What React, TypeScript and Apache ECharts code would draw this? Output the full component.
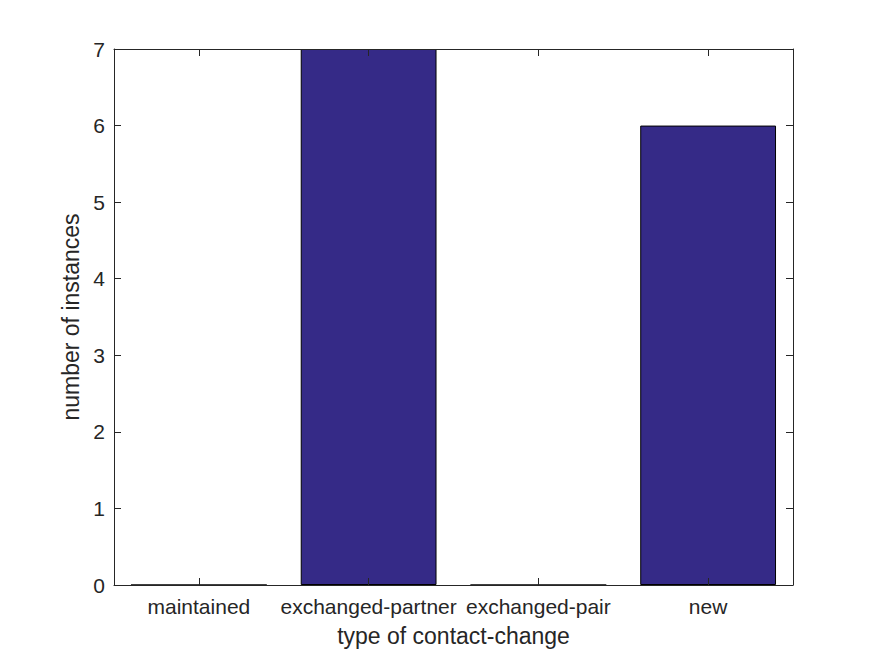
import React, { useEffect, useRef } from "react";
import * as echarts from "echarts";

const categories = ["maintained", "exchanged-partner", "exchanged-pair", "new"];
const counts = [0, 7, 0, 6];
const yMin = 0;
const yMax = 7;
const yStep = 1;

const FONT = "'Liberation Sans', Arial, Helvetica, sans-serif";
const AX = "#262626";

export default function App() {
  const ref = useRef<HTMLDivElement>(null);
  useEffect(() => {
    if (!ref.current) return;
    const chart = echarts.init(ref.current, undefined, { renderer: "svg" });
    const tickStyle = { show: true, inside: true, length: 7, lineStyle: { color: AX, width: 1 } };
    const lineStyle = { show: true, onZero: false, lineStyle: { color: AX, width: 1 } };
    chart.setOption({
      animation: false,
      backgroundColor: "#ffffff",
      grid: { left: 114, top: 49, width: 679, height: 536, containLabel: false },
      xAxis: [
        {
          type: "category",
          data: categories,
          position: "bottom",
          z: 5,
          axisLine: lineStyle,
          axisTick: { ...tickStyle, alignWithLabel: true, interval: 0 },
          axisLabel: { color: AX, fontFamily: FONT, fontSize: 21, margin: 11, interval: 0 },
          name: "type of contact-change",
          nameLocation: "middle",
          nameGap: 39,
          nameTextStyle: { color: AX, fontFamily: FONT, fontSize: 23 },
          splitLine: { show: false },
        },
        {
          type: "category",
          data: categories,
          position: "top",
          z: 5,
          axisLine: lineStyle,
          axisTick: { ...tickStyle, alignWithLabel: true, interval: 0 },
          axisLabel: { show: false },
          splitLine: { show: false },
        },
      ],
      yAxis: [
        {
          type: "value",
          min: yMin,
          max: yMax,
          interval: yStep,
          position: "left",
          z: 5,
          axisLine: lineStyle,
          axisTick: tickStyle,
          axisLabel: { color: AX, fontFamily: FONT, fontSize: 21, margin: 9 },
          splitLine: { show: false },
          name: "number of instances",
          nameLocation: "middle",
          nameGap: 28,
          nameRotate: 90,
          nameTextStyle: { color: AX, fontFamily: FONT, fontSize: 23 },
        },
        {
          type: "value",
          min: yMin,
          max: yMax,
          interval: yStep,
          position: "right",
          z: 5,
          axisLine: lineStyle,
          axisTick: tickStyle,
          axisLabel: { show: false },
          splitLine: { show: false },
        },
      ],
      series: [
        {
          type: "bar",
          data: counts,
          xAxisIndex: 0,
          yAxisIndex: 0,
          barCategoryGap: "20%",
          itemStyle: { color: "#352a87", borderColor: "#000000", borderWidth: 1 },
        },
      ],
    });
    return () => chart.dispose();
  }, []);
  return <div ref={ref} style={{ width: 875, height: 656, position: "absolute", left: 0, top: 0 }} />;
}
